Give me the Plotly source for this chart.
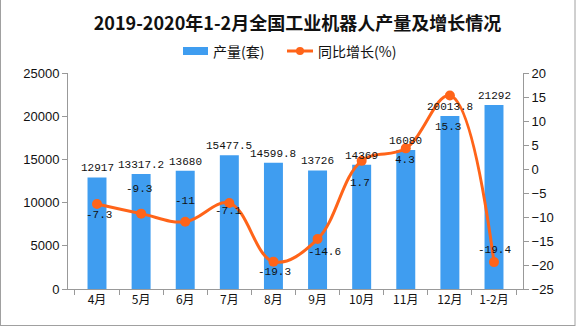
import plotly.graph_objects as go

categories = ["4月", "5月", "6月", "7月", "8月", "9月", "10月", "11月", "12月", "1-2月"]
output = [12917, 13317.2, 13680, 15477.5, 14599.8, 13726, 14369, 16080, 20013.8, 21292]
growth = [-7.3, -9.3, -11, -7.1, -19.3, -14.6, 1.7, 4.3, 15.3, -19.4]
output_labels = ["12917", "13317.2", "13680", "15477.5", "14599.8", "13726", "14369", "16080", "20013.8", "21292"]
growth_labels = ["-7.3", "-9.3", "-11", "-7.1", "-19.3", "-14.6", "1.7", "4.3", "15.3", "-19.4"]
# label offsets (x shift px, y shift px) for growth labels
growth_shift = [(2, -11), (-2, 25), (0, 21), (-1, -8), (1, -10), (7, -13), (-2, -22), (-1, -12), (-2, -31), (0, 12)]

BAR = "#3F9DF0"
LINE = "#FF6419"
AX = "#999999"
NUMFONT = dict(family="Liberation Mono, DejaVu Sans Mono, monospace", size=11, color="#111")
LEGFONT = dict(family="Noto Sans CJK SC", size=14, color="#111")

fig = go.Figure()
fig.add_trace(go.Bar(x=categories, y=output, name="产量(套)", marker=dict(color=BAR, line=dict(width=0)),
                     width=0.43, yaxis="y", showlegend=False))
fig.add_trace(go.Scatter(x=categories, y=growth, name="同比增长(%)", yaxis="y2", mode="lines+markers",
                         line=dict(color=LINE, width=3, shape="spline", smoothing=1.1),
                         marker=dict(color=LINE, size=10), showlegend=False))

W, H = 576, 327
L, R, T, B = 68, 53, 73, 38
pw, ph = W - L - R, H - T - B
def px(x):
    return (x - L) / pw
def py(y):
    return (H - B - y) / ph

ann = []
for c, v, t in zip(categories, output, output_labels):
    ann.append(dict(x=c, y=v, xref="x", yref="y", text=t, showarrow=False, yanchor="bottom", yshift=1,
                    font=NUMFONT))
for c, v, t, (dx, dy) in zip(categories, growth, growth_labels, growth_shift):
    ann.append(dict(x=c, y=v, xref="x", yref="y2", text=t, showarrow=False, yanchor="middle",
                    xshift=dx, yshift=dy, font=NUMFONT))
# custom legend texts
ann.append(dict(x=px(211), y=py(51), xref="paper", yref="paper", text="产量(套)", showarrow=False,
                xanchor="left", yanchor="middle", font=LEGFONT))
ann.append(dict(x=px(316), y=py(51), xref="paper", yref="paper", text="同比增长(%)", showarrow=False,
                xanchor="left", yanchor="middle", font=LEGFONT))

shapes = [
    dict(type="line", xref="paper", yref="paper", x0=px(0.5), x1=px(0.5), y0=py(0), y1=py(326), line=dict(color="#A0A0A0", width=1)),
    dict(type="line", xref="paper", yref="paper", x0=px(575), x1=px(575), y0=py(0), y1=py(326), line=dict(color="#A0A0A0", width=1)),
    dict(type="line", xref="paper", yref="paper", x0=px(0.5), x1=px(575), y0=py(325.5), y1=py(325.5), line=dict(color="#A0A0A0", width=1)),
    # legend symbols
    dict(type="rect", xref="paper", yref="paper", x0=px(183), x1=px(208), y0=py(55), y1=py(47),
         fillcolor=BAR, line=dict(width=0)),
    dict(type="line", xref="paper", yref="paper", x0=px(287), x1=px(313), y0=py(51), y1=py(51),
         line=dict(color=LINE, width=3)),
    dict(type="circle", xref="paper", yref="paper", x0=px(296), x1=px(304), y0=py(55), y1=py(47),
         fillcolor=LINE, line=dict(width=0)),
]

fig.update_layout(
    width=W, height=H,
    margin=dict(l=L, r=R, t=T, b=B),
    paper_bgcolor="white", plot_bgcolor="white",
    title=dict(text="<b>2019-2020年1-2月全国工业机器人产量及增长情况</b>", x=px(303), xanchor="center",
               y=1 - 24 / H, yanchor="middle",
               font=dict(family="Noto Sans CJK SC", size=18, color="#111")),
    showlegend=False,
    xaxis=dict(showline=True, linecolor=AX, linewidth=1, ticks="outside", tickson="boundaries",
               ticklen=5, tickcolor=AX, showgrid=False,
               tickfont=dict(family="Noto Sans CJK SC", size=12, color="#111")),
    yaxis=dict(range=[0, 25000], dtick=5000, tickformat="d", showline=True, linecolor=AX, linewidth=1,
               ticks="outside", ticklen=5, tickcolor=AX, showgrid=False, zeroline=False,
               tickfont=dict(family="Liberation Sans, Arial", size=13, color="#111")),
    yaxis2=dict(range=[-25, 20], dtick=5, overlaying="y", side="right", showline=True, linecolor=AX,
                linewidth=1, ticks="outside", ticklen=5, tickcolor=AX, showgrid=False, zeroline=False,
                tickfont=dict(family="Liberation Sans, Arial", size=13, color="#111")),
    annotations=ann,
    shapes=shapes,
)

fig.write_html("out.html")
